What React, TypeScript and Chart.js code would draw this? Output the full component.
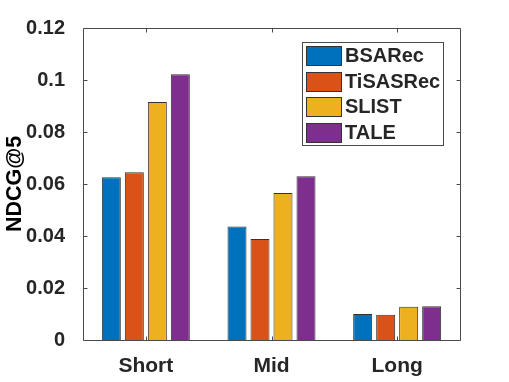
import React, { useEffect, useRef } from "react";
import { Chart, registerables } from "chart.js";

Chart.register(...registerables);

const categories = ["Short", "Mid", "Long"];
const seriesNames = ["BSARec", "TiSASRec", "SLIST", "TALE"];
const bsarec = [0.0626, 0.0437, 0.0100];
const tisasrec = [0.0645, 0.0388, 0.0097];
const slist = [0.0915, 0.0565, 0.0128];
const tale = [0.1022, 0.0630, 0.0130];
const yTicks = [0, 0.02, 0.04, 0.06, 0.08, 0.1, 0.12];
const colors = ["#0072BD", "#D95319", "#EDB120", "#7E2F8E"];

const FONT = "'Liberation Sans', Arial, Helvetica, sans-serif";
const TEXT = "#262626";
const AXIS = "#4a4a4a";

const boxPlugin = {
  id: "matlabBox",
  afterDraw(chart: any) {
    const { ctx, chartArea } = chart;
    const { left, right, top, bottom } = chartArea;
    const xs = chart.scales.x;
    const ys = chart.scales.y;
    ctx.save();
    ctx.strokeStyle = AXIS;
    ctx.lineWidth = 1;
    const L = Math.round(left) + 0.5;
    const R = Math.round(right) + 0.5;
    const T = Math.round(top) + 0.5;
    const B = Math.round(bottom) + 0.5;
    ctx.beginPath();
    ctx.rect(L, T, R - L, B - T);
    ctx.stroke();
    const tl = 4;
    ctx.beginPath();
    yTicks.forEach((v) => {
      const y = Math.round(ys.getPixelForValue(v)) + 0.5;
      ctx.moveTo(L, y);
      ctx.lineTo(L + tl, y);
      ctx.moveTo(R, y);
      ctx.lineTo(R - tl, y);
    });
    categories.forEach((_, i) => {
      const x = Math.round(xs.getPixelForValue(i)) + 0.5;
      ctx.moveTo(x, B);
      ctx.lineTo(x, B - tl);
      ctx.moveTo(x, T);
      ctx.lineTo(x, T + tl);
    });
    ctx.stroke();

    // legend
    const lx = 302.5, ly = 42.5, lw = 141, lh = 103;
    ctx.fillStyle = "#ffffff";
    ctx.fillRect(lx, ly, lw, lh);
    ctx.strokeStyle = AXIS;
    ctx.strokeRect(lx, ly, lw, lh);
    const rowH = lh / seriesNames.length;
    ctx.font = `bold 20px ${FONT}`;
    ctx.textBaseline = "middle";
    ctx.textAlign = "left";
    chart.data.datasets.forEach((ds: any, i: number) => {
      const cy = ly + rowH * (i + 0.5);
      ctx.fillStyle = ds.backgroundColor;
      ctx.fillRect(306.5, Math.round(cy - 9.5) + 0.5, 35, 19);
      ctx.strokeStyle = "#333333";
      ctx.strokeRect(306.5, Math.round(cy - 9.5) + 0.5, 35, 19);
      ctx.fillStyle = TEXT;
      ctx.fillText(ds.label, 345, cy + 1);
    });
    ctx.restore();
  },
};

export default function App() {
  const ref = useRef<HTMLCanvasElement | null>(null);
  useEffect(() => {
    if (!ref.current) return;
    const series = [bsarec, tisasrec, slist, tale];
    const chart = new Chart(ref.current, {
      type: "bar",
      data: {
        labels: categories,
        datasets: series.map((d, i) => ({
          label: seriesNames[i],
          data: d,
          backgroundColor: colors[i],
          borderColor: "#333333",
          borderWidth: 1,
          categoryPercentage: 0.732,
          barPercentage: 0.826,
        })),
      },
      options: {
        responsive: false,
        animation: false,
        events: [],
        layout: { padding: { top: 28, right: 49, bottom: 0, left: 0 } },
        plugins: {
          legend: { display: false },
          tooltip: { enabled: false },
        },
        scales: {
          x: {
            grid: { display: false },
            border: { display: false },
            ticks: {
              color: TEXT,
              font: { family: FONT, size: 21, weight: "bold" },
              padding: 6,
            },
            afterFit: (s: any) => {
              s.height = 42;
            },
          },
          y: {
            min: 0,
            max: 0.12,
            grid: { display: false },
            border: { display: false },
            afterBuildTicks: (s: any) => {
              s.ticks = yTicks.map((v) => ({ value: v }));
            },
            ticks: {
              color: TEXT,
              font: { family: FONT, size: 20, weight: "bold" },
              padding: 10,
              callback: (v: any) => String(Number(v)),
            },
            title: {
              display: true,
              text: "NDCG@5",
              color: "#000000",
              font: { family: FONT, size: 21.5, weight: "bold" },
              padding: { top: 2, bottom: 0 },
            },
            afterFit: (s: any) => {
              s.width = 83;
            },
          },
        },
      },
      plugins: [boxPlugin],
    });
    return () => chart.destroy();
  }, []);
  return (
    <div style={{ position: "fixed", left: 0, top: 0, width: 509, height: 382, background: "#fff" }}>
      <canvas ref={ref} width={509} height={382} />
    </div>
  );
}
